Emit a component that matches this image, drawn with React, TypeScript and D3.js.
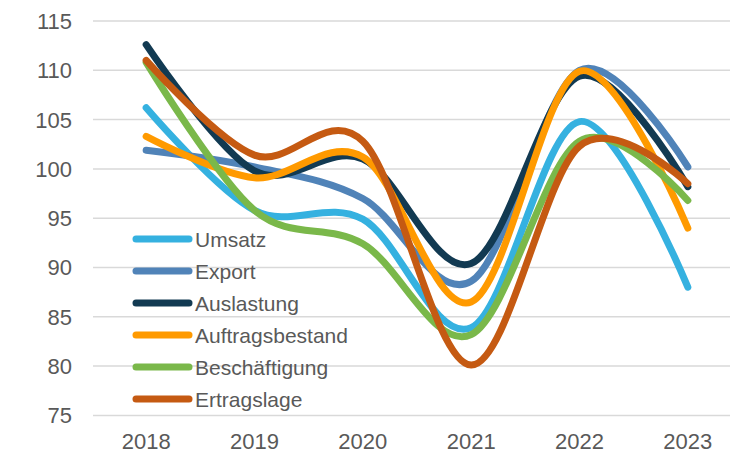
import * as d3 from 'd3'
import { useRef, useEffect } from 'react'

const years = ['2018', '2019', '2020', '2021', '2022', '2023']
const seriesNames = ['Umsatz', 'Export', 'Auslastung', 'Auftragsbestand', 'Beschäftigung', 'Ertragslage']
const umsatz = [106.2, 95.8, 94.9, 83.9, 104.8, 88.0]
const exportValues = [101.9, 100.2, 97.0, 88.6, 110.0, 100.2]
const auslastung = [112.6, 99.8, 101.0, 90.4, 109.4, 98.2]
const auftragsbestand = [103.3, 99.1, 101.2, 86.5, 109.9, 94.0]
const beschaeftigung = [110.8, 95.8, 92.4, 83.2, 102.8, 96.8]
const ertragslage = [111.0, 101.4, 102.8, 80.1, 102.3, 98.5]
const yTicks = [75, 80, 85, 90, 95, 100, 105, 110, 115]
const colors = ['#35B1E0', '#5083B8', '#123A52', '#FF9A00', '#7AB84A', '#C55A12']

const App = () => {
  const chartRef = useRef(null)

  useEffect(() => {
    drawChart()
  }, [])

  const drawChart = () => {
    const values = [umsatz, exportValues, auslastung, auftragsbestand, beschaeftigung, ertragslage]
    const svg = d3.select(chartRef.current)
    svg.selectAll('*').remove()

    const x = d3.scaleBand().domain(years).range([92, 742])
    const y = d3.scaleLinear().domain([75, 115]).range([415.4, 21])
    const cx = (d) => x(d) + x.bandwidth() / 2

    // gridlines
    svg
      .append('g')
      .selectAll('line')
      .data(yTicks)
      .enter()
      .append('line')
      .attr('x1', 93)
      .attr('x2', 742)
      .attr('y1', (d) => y(d))
      .attr('y2', (d) => y(d))
      .attr('stroke', '#D9D9D9')
      .attr('stroke-width', 1.5)

    // y labels
    svg
      .append('g')
      .selectAll('text')
      .data(yTicks)
      .enter()
      .append('text')
      .attr('x', 72)
      .attr('y', (d) => y(d))
      .attr('dy', '0.36em')
      .attr('text-anchor', 'end')
      .attr('fill', '#595959')
      .attr('font-family', 'Liberation Sans, Arial, sans-serif')
      .attr('font-size', 22)
      .text((d) => d)

    // x labels
    svg
      .append('g')
      .selectAll('text')
      .data(years)
      .enter()
      .append('text')
      .attr('x', (d) => cx(d))
      .attr('y', 449)
      .attr('text-anchor', 'middle')
      .attr('fill', '#595959')
      .attr('font-family', 'Liberation Sans, Arial, sans-serif')
      .attr('font-size', 22)
      .text((d) => d)

    const line = d3
      .line()
      .x((d, i) => cx(years[i]))
      .y((d) => y(d))
      .curve(d3.curveCardinal.tension(0))

    svg
      .append('g')
      .selectAll('path')
      .data(values)
      .enter()
      .append('path')
      .attr('d', (d) => line(d))
      .attr('fill', 'none')
      .attr('stroke', (d, i) => colors[i])
      .attr('stroke-width', 7)
      .attr('stroke-linecap', 'round')
      .attr('stroke-linejoin', 'round')

    // legend
    const legend = svg
      .append('g')
      .selectAll('g')
      .data(seriesNames)
      .enter()
      .append('g')
      .attr('transform', (d, i) => 'translate(0,' + (239 + i * 32) + ')')

    legend
      .append('line')
      .attr('x1', 136)
      .attr('x2', 189)
      .attr('stroke', (d, i) => colors[i])
      .attr('stroke-width', 7)
      .attr('stroke-linecap', 'round')

    legend
      .append('text')
      .attr('x', 195)
      .attr('dy', '0.36em')
      .attr('fill', '#595959')
      .attr('font-family', 'Liberation Sans, Arial, sans-serif')
      .attr('font-size', 21)
      .text((d) => d)
  }

  return (
    <svg
      ref={chartRef}
      width={730}
      height={453}
      style={{ position: 'absolute', left: 0, top: 0, background: '#fff' }}
    ></svg>
  )
}

export default App
